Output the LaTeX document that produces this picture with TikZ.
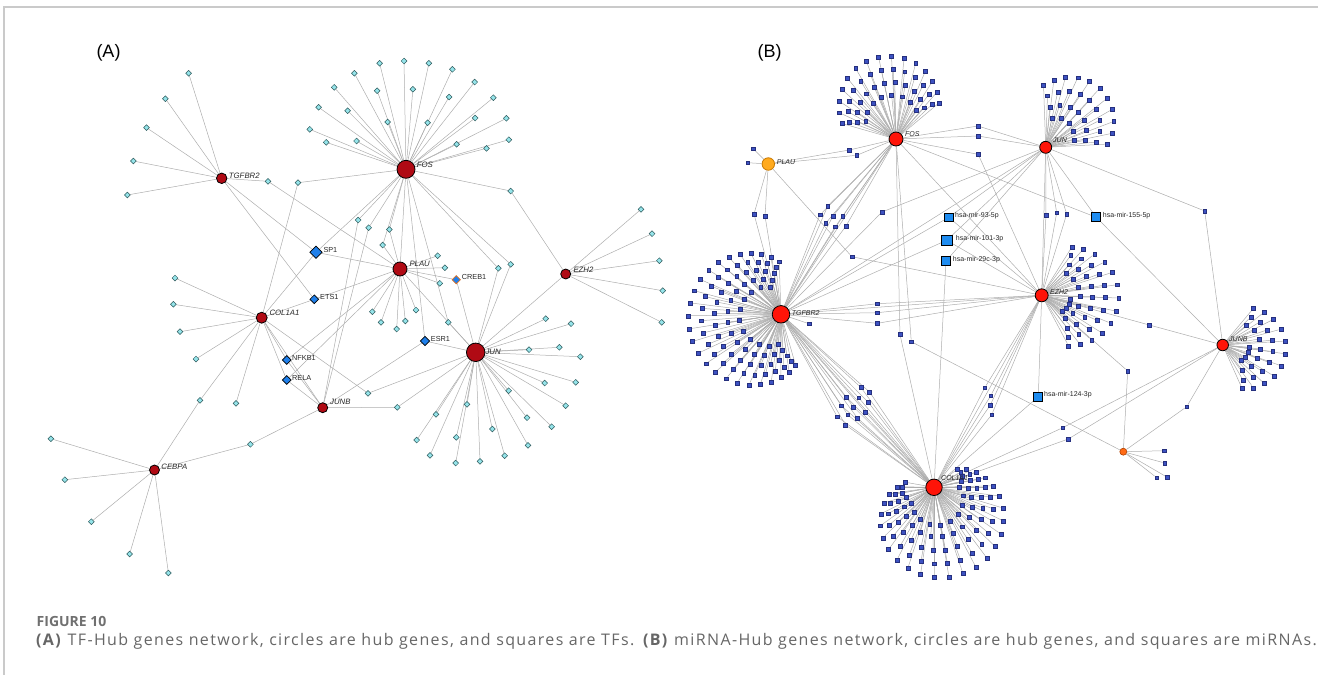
\documentclass[tikz,border=0pt]{standalone}
\usepackage{fontspec}
\setmainfont{Liberation Sans}
\newfontfamily\capfont[LetterSpace=8.5]{Open Sans}
\newfontfamily\fignofont{Open Sans}
\usetikzlibrary{shapes.geometric}
\pgfdeclarelayer{edges}
\pgfsetlayers{edges,main}

\definecolor{hubA}{HTML}{B00A14}
\definecolor{leafAfill}{HTML}{95E4EA}
\definecolor{leafAline}{HTML}{2E5A5C}
\definecolor{tfblue}{HTML}{1F7FEA}
\definecolor{crebline}{HTML}{E07020}
\definecolor{hubB}{HTML}{FF1408}
\definecolor{plauB}{HTML}{FFAA1E}
\definecolor{plauBline}{HTML}{C87800}
\definecolor{minorB}{HTML}{FF6A14}
\definecolor{minorBline}{HTML}{B04000}
\definecolor{leafBfill}{HTML}{3D52C2}
\definecolor{leafBline}{HTML}{26307E}
\definecolor{mirblue}{HTML}{1E8CF0}
\definecolor{edgegray}{HTML}{ADADAD}
\definecolor{framegray}{HTML}{CACACA}
\definecolor{figgray}{HTML}{707070}
\definecolor{capgray}{HTML}{666666}

\tikzset{
  edge/.style={draw=edgegray, line width=0.5pt},
  hubAnode/.style={circle, fill=hubA, draw=black, line width=0.8pt, inner sep=0pt, minimum size=#1},
  hubBnode/.style={circle, fill=hubB, draw=black, line width=0.8pt, inner sep=0pt, minimum size=#1},
  leafA/.style={diamond, fill=leafAfill, draw=leafAline, line width=0.5pt, inner sep=0pt, minimum width=6pt, minimum height=6pt},
  tfA/.style={diamond, fill=tfblue, draw=black, line width=0.7pt, inner sep=0pt, minimum width=#1, minimum height=#1},
  leafB/.style={rectangle, fill=leafBfill, draw=leafBline, line width=0.35pt, inner sep=0pt, minimum size=3.9pt},
  mirB/.style={rectangle, fill=mirblue, draw=black, line width=0.9pt, inner sep=0pt, minimum size=#1},
  glabA/.style={font=\fontsize{7.8}{9}\selectfont\itshape, text=black!85, inner sep=0pt, anchor=west},
  tlabA/.style={font=\fontsize{7.3}{9}\selectfont, text=black!85, inner sep=0pt, anchor=west},
  glabB/.style={font=\fontsize{7}{8}\selectfont\itshape, text=black!85, inner sep=0pt, anchor=west},
  mlabB/.style={font=\fontsize{7}{8}\selectfont, text=black!85, inner sep=0pt, anchor=west},
  panel/.style={font=\fontsize{18}{20}\selectfont, inner sep=0pt}
}

% connectors are collected here and drawn together underneath the nodes
\newcommand\alledges{}
\newcommand\addedge[2]{\xdef\alledges{\unexpanded\expandafter{\alledges}%
  \noexpand\draw[edge] (#1) -- (#2);}}

% dome-shaped envelope of a fan of leaves: angles #1..#2, radii #3..#4
\newcommand\domeA{0}\newcommand\domeB{1}\newcommand\domeMin{0}\newcommand\domeMax{0}
\newcommand\setdome[4]{\renewcommand\domeA{#1}\renewcommand\domeB{#2}%
  \renewcommand\domeMin{#3}\renewcommand\domeMax{#4}}
% one ring of leaves round a hub: hub, hx, hy, scale, count, from, to, prefix
\newcommand\leafring[8]{%
  \foreach \k in {1,...,#5}{%
    \pgfmathsetmacro\lrang{#6+(\k-1)*((#7-#6)/(#5-1))}%
    \pgfmathsetmacro\lrfrac{(\lrang-\domeA)/(\domeB-\domeA)}%
    \pgfmathsetmacro\lrrad{#4*(\domeMin+(\domeMax-\domeMin)*sin(180*\lrfrac))}%
    \node[leafB] (#8-\k) at ({#2+\lrrad*cos(\lrang)},{#3-\lrrad*sin(\lrang)}) {};
    \addedge{#1}{#8-\k}%
  }%
}
% leaves at listed positions, each tied to one hub
\newcommand\leaflist[4]{%
  \foreach \x/\y [count=\i] in {#4}{%
    \node[#2] (#3-\i) at (\x,\y) {};
    \addedge{#1}{#3-\i}%
  }%
}
% leaves at listed positions, each tied to two hubs
\newcommand\bridgelist[5]{%
  \foreach \x/\y [count=\i] in {#5}{%
    \node[#3] (#4-\i) at (\x,\y) {};
    \addedge{#1}{#4-\i}\addedge{#4-\i}{#2}%
  }%
}

\begin{document}
\begin{tikzpicture}[x=1pt,y=-1pt]
\useasboundingbox (0,0) rectangle (1318,675);

% frame
\draw[framegray, line width=1.3pt] (1318,7) -- (4,7) -- (4,675);

% ================= panel A =================
\node[panel] (labA) at (108.5,52.5) {(A)};

\node[hubAnode=18] (fosA) at (406,169.3) {};
\node[hubAnode=10.5] (tgfA) at (221.7,178.3) {};
\node[hubAnode=14] (plauA) at (400,269) {};
\node[hubAnode=11] (colA) at (261.7,317.7) {};
\node[hubAnode=18.5] (junA) at (475.7,352.3) {};
\node[hubAnode=10] (ezhA) at (565.7,274) {};
\node[hubAnode=10] (junbA) at (322.7,407.7) {};
\node[hubAnode=10] (cebA) at (154.5,470) {};

\node[tfA=12.5] (sp1) at (316,252.3) {};
\node[tfA=9] (ets1) at (314.3,299.3) {};
\node[tfA=9] (nfkb1) at (286.7,360) {};
\node[tfA=9] (rela) at (286.7,380) {};
\node[tfA=8.5, draw=crebline] (creb1) at (456.3,279.7) {};
\node[tfA=9.5] (esr1) at (425,341) {};

\leaflist{fosA}{leafA}{fosAl}{379.6/63.3,404/61,428.9/63.3,452.4/69.3,474.7/82,493.3/97.7,
  506.3/118.3,508.8/139.7,486.5/148.3,456.6/144.3,475.2/118,449.1/97,412.9/89.3,377.1/90.7,
  354.4/73.3,334.2/87.3,318.6/107.3,347.6/110.7,387.6/122,427.6/122.7,309.8/129.3,326.2/142.3,356.5/141}
\leaflist{junA}{leafA}{junAl}{545.7/318.7,571/323.7,529/349.7,559.3/347.3,580.3/356.7,544.7/383,
  575.7/382.3,508.7/390.7,565.7/405.7,527/417.7,551.7/426.7,492.3/429,528/445.3,504.7/455.7,
  480/461.3,455.7/463,430/455.3,416.7/440,436/414.3,456.3/437.3,467/404.3}
\leaflist{tgfA}{leafA}{tgfAl}{188.6/73.3,165.4/98.7,146.5/127.7,133.3/161,127.3/195}
\leaflist{colA}{leafA}{colAl}{175/278,173.4/304.3,180/331.7,196/359,236/403.3}
\leaflist{cebA}{leafA}{cebAl}{50.9/438.7,64.8/479.7,91.3/521.7,129.6/554,168.4/573}
\leaflist{ezhA}{leafA}{ezhAl}{641/209.3,652/233.7,659.3/260.7,662.7/290.7,661.7/322.3}
\leaflist{plauA}{leafA}{plauAl}{437.7/255.7,444.9/267.7,439.8/283.3,372.3/311.7,381/322.3,
  396.7/329,405.3/321,416/310}

% leaves shared by two hubs
\bridgelist{tgfA}{plauA}{leafA}{tpA}{268/181.3}
\bridgelist{fosA}{colA}{leafA}{fcA}{298/182.7}
\bridgelist{fosA}{junbA}{leafA}{fjbA}{358.2/220,368.7/227.7}
\bridgelist{fosA}{plauA}{leafA}{fpA}{389.3/229.5,382.7/245}
\bridgelist{fosA}{junA}{leafA}{fjA}{448.3/322.3,498.3/268.3,510.7/264.3}
\bridgelist{fosA}{ezhA}{leafA}{feA}{510.7/191}
\bridgelist{colA}{junA}{leafA}{cjA}{368/393.3}
\bridgelist{junbA}{junA}{leafA}{jbjA}{397.3/407.3}
\bridgelist{junbA}{cebA}{leafA}{jbcA}{250.4/444.3}
\bridgelist{colA}{cebA}{leafA}{ccA}{200/400.3}

\node[glabA] (fosAt) at (416.7,165) {FOS};
\node[glabA] (tgfAt) at (228.7,175.7) {TGFBR2};
\node[glabA] (plauAt) at (409.3,264.3) {PLAU};
\node[glabA] (colAt) at (269.3,313.3) {COL1A1};
\node[glabA] (junAt) at (485.3,351.5) {JUN};
\node[glabA] (ezhAt) at (573.3,270) {EZH2};
\node[glabA] (junbAt) at (330,402.3) {JUNB};
\node[glabA] (cebAt) at (161.2,467.3) {CEBPA};
\node[tlabA] (sp1t) at (323.3,250) {SP1};
\node[tlabA] (ets1t) at (320,297) {ETS1};
\node[tlabA] (nfkb1t) at (292,358.3) {NFKB1};
\node[tlabA] (relat) at (292,378) {RELA};
\node[tlabA] (creb1t) at (461.7,277.3) {CREB1};
\node[tlabA] (esr1t) at (430.7,339) {ESR1};

% ================= panel B =================
\node[panel] (labB) at (769.5,52.5) {(B)};

\node[hubBnode=14] (fosB) at (896,139) {};
\node[hubBnode=12] (junB) at (1045.7,147.3) {};
\node[circle, fill=plauB, draw=plauBline, line width=0.8pt, inner sep=0pt, minimum size=12.5] (plauB) at (768.3,164) {};
\node[hubBnode=17.5] (tgfB) at (781,314.3) {};
\node[hubBnode=13] (ezhB) at (1041.7,295.3) {};
\node[hubBnode=11.5] (junbB) at (1222.7,345) {};
\node[hubBnode=16.5] (colB) at (934,487.3) {};
\node[circle, fill=minorB, draw=minorBline, line width=0.6pt, inner sep=0pt, minimum size=7] (minB) at (1123.3,451.7) {};

\node[mirB=8.5] (m93) at (948.7,217.3) {};
\node[mirB=10.5] (m101) at (946.7,240.3) {};
\node[mirB=8.5] (m29c) at (946,261) {};
\node[mirB=9] (m155) at (1096.3,217.3) {};
\node[mirB=9] (m124) at (1038.3,396.7) {};

% fans of leaves
\setdome{38}{166}{55}{84}
\leafring{fosB}{896}{139}{1}{15}{40}{164}{fbA}
\leafring{fosB}{896}{139}{0.84}{13}{44}{160}{fbB}
\leafring{fosB}{896}{139}{0.68}{11}{48}{156}{fbC}
\leafring{fosB}{896}{139}{0.53}{8}{55}{150}{fbD}

\setdome{0}{95}{60}{80}
\leafring{junB}{1045.7}{147.3}{1}{11}{3}{92}{jbA}
\leafring{junB}{1045.7}{147.3}{0.8}{9}{6}{88}{jbB}
\leafring{junB}{1045.7}{147.3}{0.6}{7}{10}{84}{jbC}
\leafring{junB}{1045.7}{147.3}{0.42}{5}{15}{78}{jbD}

\setdome{-66}{62}{55}{77}
\leafring{ezhB}{1041.7}{295.3}{1}{13}{-62}{58}{ebA}
\leafring{ezhB}{1041.7}{295.3}{0.83}{11}{-58}{54}{ebB}
\leafring{ezhB}{1041.7}{295.3}{0.66}{9}{-52}{48}{ebC}
\leafring{ezhB}{1041.7}{295.3}{0.5}{7}{-45}{42}{ebD}
\leafring{ezhB}{1041.7}{295.3}{0.38}{4}{-38}{-8}{ebE}

\setdome{-70}{54}{46}{63}
\leafring{junbB}{1222.7}{345}{1}{11}{-66}{50}{jnA}
\leafring{junbB}{1222.7}{345}{0.8}{9}{-60}{45}{jnB}
\leafring{junbB}{1222.7}{345}{0.6}{7}{-52}{40}{jnC}
\leafring{junbB}{1222.7}{345}{0.42}{4}{-40}{-5}{jnD}

\setdome{88}{290}{50}{93}
\leafring{tgfB}{781}{314.3}{1}{25}{92}{286}{tbA}
\leafring{tgfB}{781}{314.3}{0.86}{22}{96}{282}{tbB}
\leafring{tgfB}{781}{314.3}{0.72}{19}{100}{278}{tbC}
\leafring{tgfB}{781}{314.3}{0.58}{15}{105}{272}{tbD}
\leafring{tgfB}{781}{314.3}{0.45}{11}{112}{265}{tbE}

\setdome{-196}{44}{24}{91}
\leafring{colB}{934}{487.3}{1}{26}{-190}{38}{cbA}
\leafring{colB}{934}{487.3}{0.85}{22}{-180}{30}{cbB}
\leafring{colB}{934}{487.3}{0.7}{18}{-170}{22}{cbC}
\leafring{colB}{934}{487.3}{0.55}{14}{-160}{12}{cbD}
\leafring{colB}{934}{487.3}{0.42}{10}{-145}{0}{cbE}

\leaflist{plauB}{leafB}{plauBl}{753.3/148.7,747.7/162.7}
\leaflist{minB}{leafB}{minBl}{1164/450.7,1164.7/463,1156.7/477.7,1167.3/477.3}
\leaflist{tgfB}{leafB}{tgfBl}{809/323.7}

% leaves shared by two hubs
\bridgelist{plauB}{fosB}{leafB}{pfB}{849.3/150,856.7/155.3}
\bridgelist{plauB}{tgfB}{leafB}{ptB}{754/214,765/216}
\bridgelist{plauB}{ezhB}{leafB}{peB}{851.9/256.7}
\bridgelist{tgfB}{fosB}{leafB}{tfB}{827.7/206,820/214.7,833/216,842.7/216.3,825.7/223.3,835.3/226.7,846/226}
\bridgelist{tgfB}{junB}{leafB}{tjB}{882/212}
\bridgelist{tgfB}{ezhB}{leafB}{teB}{877.3/303.7,877.3/312.7,877.3/323.3}
\bridgelist{tgfB}{colB}{leafB}{tcB}{860.8/387.3,869.6/392,846.4/397,858.7/397.7,868.3/402.3,841.4/405.7,
  853.6/407,865.4/412,837.2/416.7,847.7/414.7,857.4/418,845.6/425}
\bridgelist{fosB}{colB}{leafB}{fcB}{899.9/334}
\bridgelist{fosB}{minB}{leafB}{fmB}{911.3/341.7}
\bridgelist{fosB}{junB}{leafB}{fjB}{978/126,978/136}
\bridgelist{fosB}{ezhB}{leafB}{feB}{978.2/154.3}
\bridgelist{junB}{ezhB}{leafB}{jeB}{1046/215,1056.7/212.7,1066.7/214}
\bridgelist{junB}{junbB}{leafB}{jjB}{1204.7/211}
\bridgelist{ezhB}{junbB}{leafB}{ejB}{1149.3/325}
\bridgelist{ezhB}{minB}{leafB}{emB}{1127.7/371}
\bridgelist{ezhB}{colB}{leafB}{ecB}{984.7/387.7,990.7/395.7,990.3/405,991.7/414.7}
\bridgelist{colB}{junbB}{leafB}{cjB}{1062.7/427.7,1068.3/439}
\bridgelist{junbB}{minB}{leafB}{jmB}{1186.7/406.7}

\node[glabB] (fosBt) at (905,134.3) {FOS};
\node[glabB] (plauBt) at (776.7,161.7) {PLAU};
\node[glabB] (tgfBt) at (791.7,313.3) {TGFBR2};
\node[glabB] (junBt) at (1053,140) {JUN};
\node[glabB] (ezhBt) at (1050,291.7) {EZH2};
\node[glabB] (junbBt) at (1229,339.3) {JUNB};
\node[glabB] (colBt) at (941,478.3) {COL1A1};
\node[mlabB] (m93t) at (955,215.5) {hsa-mir-93-5p};
\node[mlabB] (m101t) at (955.7,238.5) {hsa-mir-101-3p};
\node[mlabB] (m29ct) at (952.7,259.5) {hsa-mir-29c-3p};
\node[mlabB] (m155t) at (1102.7,215.5) {hsa-mir-155-5p};
\node[mlabB] (m124t) at (1044,395) {hsa-mir-124-3p};

% ================= connectors (below the nodes) =================
\begin{pgfonlayer}{edges}
\alledges
% panel A: hub, TF and hub-to-hub links
\draw[edge] (tgfA) -- (sp1);
\draw[edge] (tgfA) -- (ets1);
\draw[edge] (fosA) -- (sp1);
\draw[edge] (sp1) -- (plauA);
\draw[edge] (sp1) -- (colA);
\draw[edge] (ets1) -- (colA);
\draw[edge] (ets1) -- (plauA);
\draw[edge] (colA) -- (nfkb1);
\draw[edge] (colA) -- (rela);
\draw[edge] (colA) -- (junbA);
\draw[edge] (nfkb1) -- (junbA);
\draw[edge] (rela) -- (junbA);
\draw[edge] (nfkb1) -- (plauA);
\draw[edge] (rela) -- (plauA);
\draw[edge] (fosA) -- (plauA);
\draw[edge] (fosA) -- (esr1);
\draw[edge] (plauA) -- (creb1);
\draw[edge] (creb1) -- (junA);
\draw[edge] (plauA) -- (junA);
\draw[edge] (esr1) -- (junA);
\draw[edge] (esr1) -- (junbA);
\draw[edge] (junA) -- (ezhA);
% panel B: hub, miRNA and hub-to-hub links
\draw[edge] (tgfB) -- (fosB);
\draw[edge] (tgfB) -- (colB);
\draw[edge] (tgfB) -- (ezhB);
\draw[edge] (fosB) -- (ezhB);
\draw[edge] (junB) -- (ezhB);
\draw[edge] (ezhB) -- (colB);
\draw[edge] (junB) -- (tgfB);
\draw[edge] (m93) -- (junB);
\draw[edge] (m93) -- (ezhB);
\draw[edge] (m93) -- (tgfB);
\draw[edge] (m101) -- (junB);
\draw[edge] (m101) -- (ezhB);
\draw[edge] (m101) -- (tgfB);
\draw[edge] (m29c) -- (colB);
\draw[edge] (m29c) -- (junB);
\draw[edge] (m155) -- (fosB);
\draw[edge] (m155) -- (junB);
\draw[edge] (m155) -- (junbB);
\draw[edge] (m124) -- (ezhB);
\draw[edge] (m124) -- (colB);
\end{pgfonlayer}

% ================= caption =================
\node[anchor=base west, inner sep=0pt, text=figgray,
  font=\fignofont\bfseries\fontsize{14}{16}\selectfont] (figno) at (36.5,626.5) {FIGURE 10};
\node[anchor=base west, inner sep=0pt, text=capgray,
  font=\capfont\fontsize{16}{19}\selectfont] (caption) at (36,645)
  {\textbf{(A)} TF-Hub genes network, circles are hub genes, and squares are TFs. \textbf{(B)} miRNA-Hub genes network, circles are hub genes, and squares are miRNAs.};
\end{tikzpicture}
\end{document}
